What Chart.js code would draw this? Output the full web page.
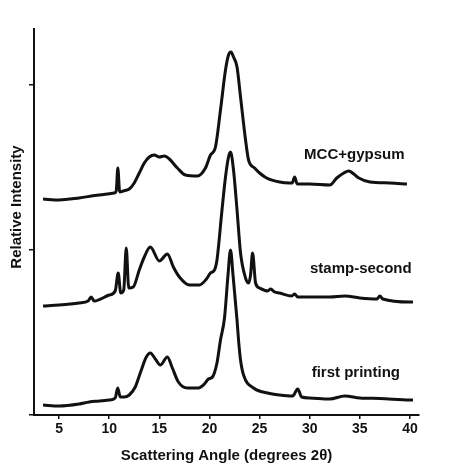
<!DOCTYPE html>
<html lang="en">
  <head>
    <meta charset="UTF-8" />
    <title>Scattering curves</title>
    <script src="https://cdn.jsdelivr.net/npm/chart.js"></script>
    <style>
      body { margin: 0; background: #fff; }
      #wrap { width: 454px; height: 474px; }
    </style>
  </head>
  <body>
    <div id="wrap"><canvas id="xrd"></canvas></div>
    <script>
      // values (relative intensity, arbitrary units)
      const seriesNames = ["MCC+gypsum", "stamp-second", "first printing"];
      const angleTicks = [5, 10, 15, 20, 25, 30, 35, 40];
      const intensityTicks = [0, 165, 330];

      const mccAngle = [3.4, 5, 7, 9, 10.5, 10.7, 10.86, 11.05, 11.4, 12, 12.5, 13, 13.5, 14, 14.5,
        15, 15.5, 16, 16.8, 17.6, 18.8, 19.6, 20.1, 20.6, 21.1, 21.6, 21.9, 22.15, 22.4, 22.75,
        23.1, 23.6, 23.9, 24.5, 25, 25.7, 27, 28, 28.25, 28.5, 28.75, 30, 32, 32.7, 33.4,
        33.9, 34.4, 34.9, 36, 38, 39.7];
      const mccValue = [216, 215, 217, 220, 222, 224, 247, 223, 224, 226, 232, 242, 252, 258, 260,
        258, 259, 256, 247, 240, 239, 247, 260, 268, 305, 345, 360, 363, 358, 348,
        318, 275, 255, 247, 242, 237, 233, 232, 232, 238, 231, 231, 230, 237, 242,
        244, 241, 237, 233, 232, 231];

      const stampAngle = [3.4, 5, 7, 7.9, 8.2, 8.5, 10, 10.6, 10.9, 11.15, 11.45, 11.7, 11.95, 12.4,
        13, 13.5, 14.1, 15.0, 15.8, 16.4, 17, 18, 19, 19.7, 20.1, 20.5, 20.75, 21.25, 21.6,
        21.9, 22.1, 22.4, 22.75, 23.1, 23.6, 23.9, 24.1, 24.3, 24.6, 25, 25.8, 26.1, 26.5,
        27, 28.2, 28.5, 28.8, 30, 32, 33.5, 35, 36.7, 37, 37.3, 40, 40.3];
      const stampValue = [109, 110, 112, 114, 118, 114, 120, 124, 142, 122, 125, 167, 127, 128,
        145, 158, 168, 154, 161, 148, 138, 130, 130, 136, 142, 145, 155, 205, 238,
        258, 263, 245, 205, 162, 137, 132, 140, 162, 132, 127, 124, 126, 123,
        122, 119, 121, 118, 118, 118, 119, 117, 116, 119, 116, 113, 113];

      const firstAngle = [3.4, 5, 7, 8, 9, 10, 10.6, 10.85, 11.1, 11.5, 12, 12.6, 13.1, 13.7, 14.1,
        14.6, 15.1, 15.8, 16.3, 16.9, 17.8, 18.9, 19.5, 19.9, 20.3, 20.75, 21.1, 21.5, 21.85, 22.1,
        22.35, 22.75, 22.9, 23.1, 23.4, 24.4, 25.8, 27, 28.3, 28.8, 29.2, 30, 32, 33.5, 35,
        37, 40, 40.3];
      const firstValue = [10, 9, 11, 13, 14, 15, 17, 27, 18, 18, 20, 28, 42, 58, 62,
        56, 50, 58, 47, 33, 27, 27, 31, 36, 38, 52, 75, 97, 140, 165,
        140, 95, 75, 55, 40, 27, 22, 20, 19, 26, 18, 17, 16, 19, 17,
        16.5, 15, 15];

      const pairs = (xs, ys) => xs.map((x, i) => ({ x: x, y: ys[i] }));
      const fontFamily = "'Liberation Sans', Arial, sans-serif";
      const boldFont = { family: fontFamily, size: 15, weight: "bold" };

      // series names next to each curve, plus the y axis title (sits a bit above centre in the scan)
      const curveLabels = {
        id: "curveLabels",
        afterDatasetsDraw(chart, args, opts) {
          const { ctx, scales } = chart;
          ctx.save();
          ctx.fillStyle = "#111";
          ctx.font = "bold 15px " + fontFamily;
          ctx.textAlign = "center";
          ctx.textBaseline = "middle";
          opts.at.forEach((p, i) => {
            ctx.fillText(seriesNames[i], scales.x.getPixelForValue(p[0]), scales.y.getPixelForValue(p[1]));
          });
          ctx.translate(17, scales.y.getPixelForValue(opts.yTitleAt));
          ctx.rotate(-Math.PI / 2);
          ctx.fillText("Relative Intensity", 0, 0);
          ctx.restore();
        },
      };

      const line = (data) => ({
        data: data,
        borderColor: "#111",
        borderWidth: 3,
        pointRadius: 0,
        cubicInterpolationMode: "monotone",
        fill: false,
      });

      new Chart(document.getElementById("xrd"), {
        type: "line",
        data: {
          datasets: [
            line(pairs(mccAngle, mccValue)),
            line(pairs(stampAngle, stampValue)),
            line(pairs(firstAngle, firstValue)),
          ],
        },
        plugins: [curveLabels],
        options: {
          responsive: true,
          maintainAspectRatio: false,
          animation: false,
          layout: { padding: { top: 29, right: 35, left: 0, bottom: 0 } },
          plugins: {
            legend: { display: false },
            tooltip: { enabled: false },
            curveLabels: { at: [[34.45, 260], [35.1, 146], [34.6, 42]], yTitleAt: 208 },
          },
          scales: {
            x: {
              type: "linear",
              min: 2.5,
              max: 40.9,
              afterBuildTicks: (s) => { s.ticks = angleTicks.map((v) => ({ value: v })); },
              afterFit: (s) => { s.height = 59; },
              grid: { drawOnChartArea: false, tickLength: 4, color: "#111", lineWidth: 1.5 },
              border: { color: "#111", width: 2 },
              ticks: { color: "#111", font: { family: fontFamily, size: 14, weight: "bold" }, padding: 2, maxRotation: 0 },
              title: {
                display: true,
                text: "Scattering Angle (degrees 2θ)",
                color: "#111",
                font: boldFont,
                padding: { top: 4, bottom: 9 },
              },
            },
            y: {
              min: 0,
              max: 386,
              afterBuildTicks: (s) => { s.ticks = intensityTicks.map((v) => ({ value: v })); },
              afterFit: (s) => { s.width = 34; },
              grid: { drawOnChartArea: false, tickLength: 5, color: "#111", lineWidth: 1.5 },
              border: { color: "#111", width: 2 },
              ticks: { display: false },
            },
          },
        },
      });
    </script>
  </body>
</html>
